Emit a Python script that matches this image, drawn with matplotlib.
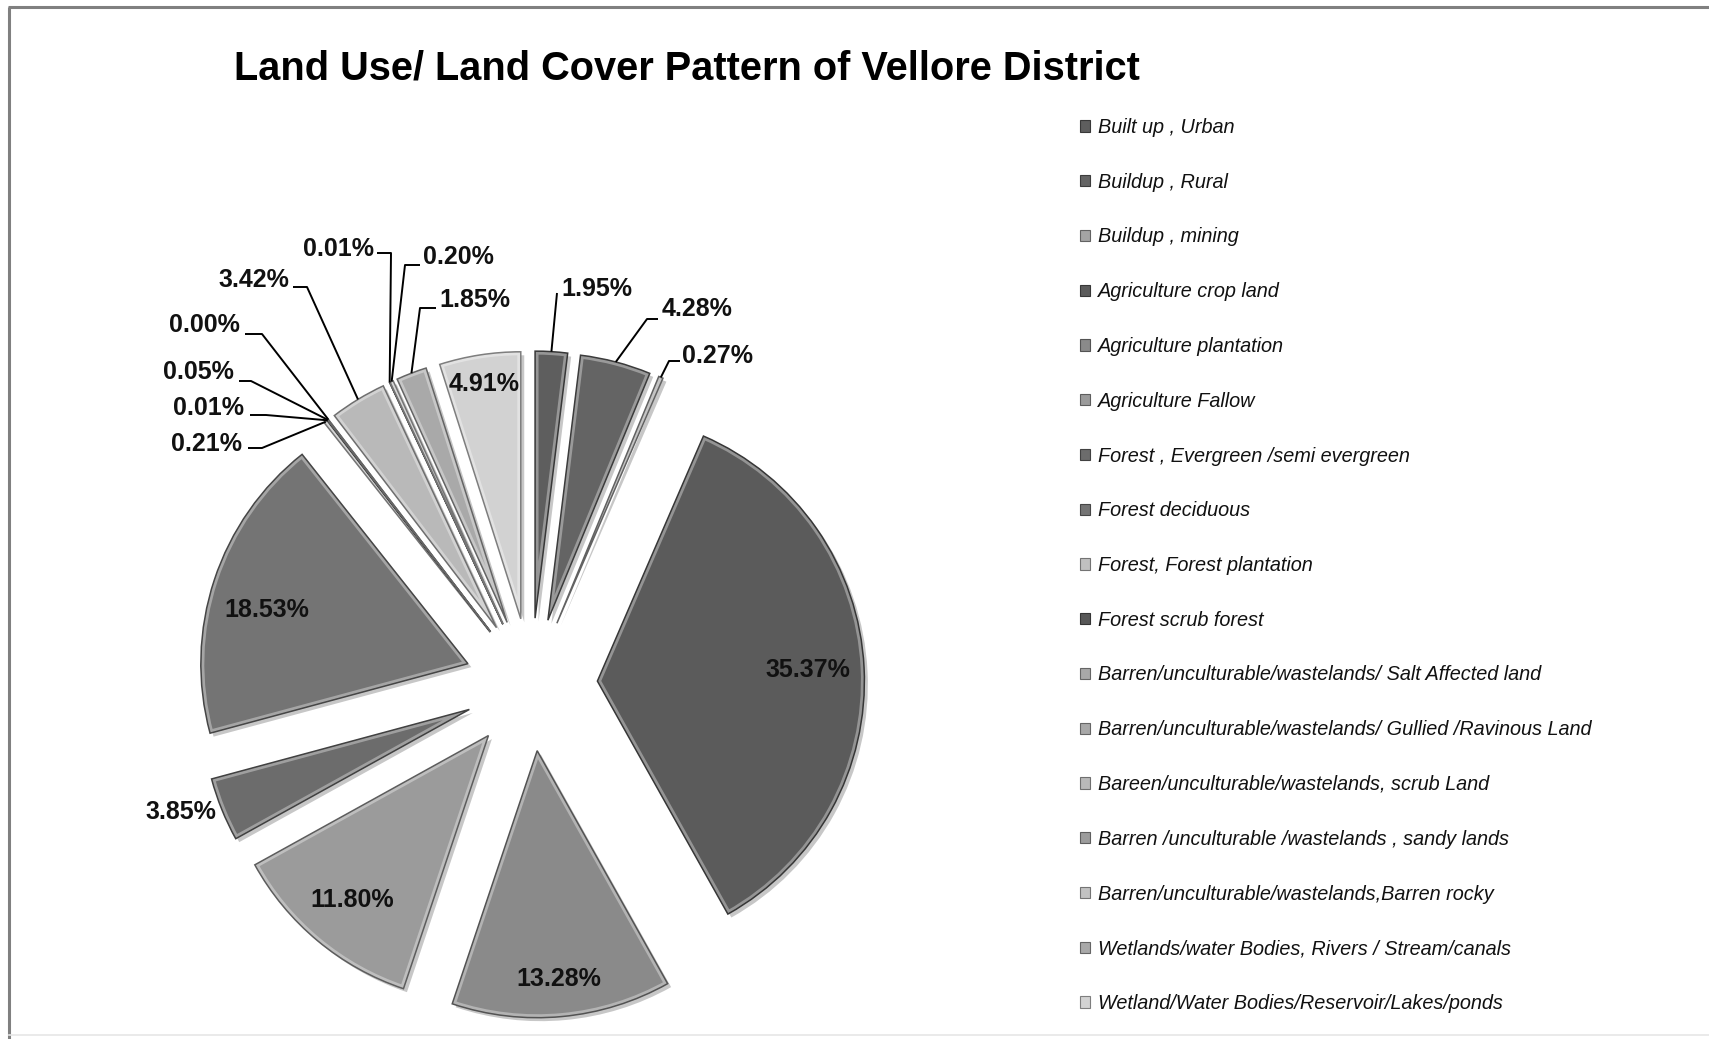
import matplotlib
matplotlib.use("Agg")
import matplotlib.pyplot as plt
import numpy as np
from matplotlib.patches import Wedge
from matplotlib import patheffects as pe

# ---- data -------------------------------------------------------------
categories = [
    "Built up , Urban",
    "Buildup , Rural",
    "Buildup , mining",
    "Agriculture crop land",
    "Agriculture plantation",
    "Agriculture Fallow",
    "Forest , Evergreen /semi evergreen",
    "Forest deciduous",
    "Forest, Forest plantation",
    "Forest scrub forest",
    "Barren/unculturable/wastelands/ Salt Affected land",
    "Barren/unculturable/wastelands/ Gullied /Ravinous Land",
    "Bareen/unculturable/wastelands, scrub Land",
    "Barren /unculturable /wastelands , sandy lands",
    "Barren/unculturable/wastelands,Barren rocky",
    "Wetlands/water Bodies, Rivers / Stream/canals",
    "Wetland/Water Bodies/Reservoir/Lakes/ponds",
]
shares = [1.95, 4.28, 0.27, 35.37, 13.28, 11.80, 3.85, 18.53,
          0.21, 0.01, 0.05, 0.00, 3.42, 0.01, 0.20, 1.85, 4.91]
colors = ["#5e5e5e", "#646464", "#a4a4a4", "#5b5b5b", "#8a8a8a", "#9b9b9b",
          "#6c6c6c", "#747474", "#c0c0c0", "#575757", "#a8a8a8", "#a8a8a8",
          "#b9b9b9", "#9c9c9c", "#c2c2c2", "#a9a9a9", "#d2d2d2"]
title = "Land Use/ Land Cover Pattern of Vellore District"

# ---- canvas (axes spans the whole figure, one data unit = one pixel) ----
W, H = 1709, 1039
fig = plt.figure(figsize=(W / 100, H / 100), dpi=100)
ax = fig.add_axes([0, 0, 1, 1])

def Y(y_top):
    return H - y_top

cx, cy, R = 531, Y(684.5), 267
gap = 0.249 * R          # every slice pulled out by the same distance
wedges, _ = ax.pie(shares, colors=colors, startangle=90, counterclock=False,
                   radius=R, center=(cx, cy), explode=[gap] * len(shares),
                   frame=True, wedgeprops=dict(linewidth=0))

def shade(c, f):
    rgb = np.array(matplotlib.colors.to_rgb(c))
    if f < 1:
        return tuple(rgb * f)
    return tuple(rgb + (1 - rgb) * (f - 1))

for w, c in zip(wedges, colors):
    w.set_path_effects([pe.SimplePatchShadow(offset=(2.5, -2.5),
                                             shadow_rgbFace="black", alpha=0.22),
                        pe.Normal()])
    # soft bevel: light rim clipped inside the wedge, then a dark outline
    rim = Wedge(w.center, w.r, w.theta1, w.theta2, facecolor="none",
                edgecolor=shade(c, 1.35), linewidth=5, zorder=w.get_zorder())
    ax.add_patch(rim)
    rim.set_clip_path(w)
    edge = Wedge(w.center, w.r, w.theta1, w.theta2, facecolor="none",
                 edgecolor=shade(c, 0.6), linewidth=1.1, zorder=w.get_zorder())
    ax.add_patch(edge)

def mid_point(w, frac, dtheta=0.0):
    a = np.deg2rad((w.theta1 + w.theta2) / 2 + dtheta)
    return (w.center[0] + frac * w.r * np.cos(a),
            w.center[1] + frac * w.r * np.sin(a))

label_font = dict(family="Liberation Sans", fontweight="bold", fontsize=18,
                  color="#111111")

# labels placed inside their slices: radial fraction, angular nudge (deg)
inside = {3: (0.79, 0), 4: (0.86, 0), 5: (0.80, 0), 7: (0.78, 3.3),
          16: (0.89, 0)}
for i, (frac, dth) in inside.items():
    x, y = mid_point(wedges[i], frac, dth)
    ax.text(x, y, f"{shares[i]:.2f}%", ha="center", va="center", **label_font)

# labels outside with leader lines: text x, text y, alignment, elbow x, elbow y, stub end x
outside = {
    0:  (561, 289, "left", 557, 293, 557),
    1:  (662, 309, "left", 647, 319, 658),
    2:  (682, 356, "left", 669, 361, 680),
    14: (423, 257, "left", 405, 265, 420),
    15: (439, 300, "left", 420, 308, 436),
    13: (374, 249, "right", 391, 253, 377),
    12: (289, 280, "right", 307, 287, 293),
    11: (240, 325, "right", 262, 334, 245),
    10: (234, 372, "right", 251, 381, 239),
    9:  (244, 408, "right", 266, 415, 250),
    8:  (242, 444, "right", 262, 448, 248),
}
for i, (tx, ty, ha, ex, ey, sx) in outside.items():
    px, py = mid_point(wedges[i], 1.0)
    ax.plot([px, ex, sx], [py, Y(ey), Y(ey)], color="black", lw=1.4,
            solid_capstyle="butt", zorder=5)
    ax.text(tx, Y(ty), f"{shares[i]:.2f}%", ha=ha, va="center", **label_font)

# slice label without a leader line
ax.text(216, Y(812), f"{shares[6]:.2f}%", ha="right", va="center", **label_font)

# ---- title ------------------------------------------------------------
ax.text(234, Y(79), title, ha="left", va="baseline", family="Liberation Sans",
        fontweight="bold", fontsize=28.6, color="black")

# ---- legend -------------------------------------------------------------
handles = [plt.Rectangle((0, 0), 1, 1, facecolor=c, edgecolor=shade(c, 0.6),
                         linewidth=0.8) for c in colors]
leg = ax.legend(handles, categories, loc="upper left",
                bbox_to_anchor=(1080 / W, 1 - 118 / H),
                frameon=False, labelspacing=1.80,
                handlelength=0.5, handleheight=0.5, handletextpad=0.43,
                borderpad=0, borderaxespad=0,
                prop=dict(family="Liberation Sans", style="italic", size=14.3))
for t in leg.get_texts():
    t.set_color("#111111")

# ---- frame lines ------------------------------------------------------
ax.plot([8, W], [Y(7), Y(7)], color="#808080", lw=2.2, solid_capstyle="butt")
ax.plot([9, 9], [Y(7), 0], color="#808080", lw=2.2, solid_capstyle="butt")
ax.plot([9, W], [Y(1035), Y(1035)], color="#e6e6e6", lw=1.2)

ax.set_xlim(0, W)
ax.set_ylim(0, H)
ax.set_aspect("auto")
ax.axis("off")

fig.savefig("out.png", dpi=100, facecolor="white")
